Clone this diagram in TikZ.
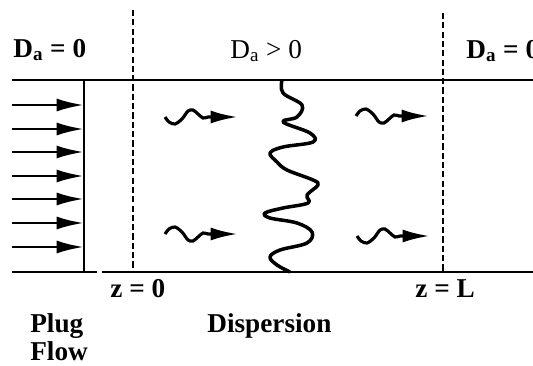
\documentclass[tikz,border=0pt]{standalone}
\usepackage{fontspec}
\setmainfont{Liberation Serif}
\usetikzlibrary{arrows.meta}
\tikzset{
    % Line styles
    wall/.style={
        line width=1.2pt,
        draw=black
    },
    front/.style={
        line width=1.4pt,
        draw=black
    },
    boundary/.style={
        line width=1.2pt,
        draw=black,
        dash pattern=on 3.5pt off 1.8pt
    },
    mixing/.style={
        line width=2pt,
        draw=black,
        line join=round
    },
    % Arrow styles
    plugarrow/.style={
        -{Latex[length=0.55cm,width=0.26cm]},
        line width=1.6pt
    },
    squiggle/.style={
        -{Latex[length=0.55cm,width=0.26cm]},
        line width=1.8pt
    },
    % Text styles
    label/.style={
        font=\fontsize{15.5}{18}\selectfont\bfseries,
        inner sep=0pt,
        anchor=base west
    },
    thinlabel/.style={
        font=\fontsize{15.5}{18}\selectfont,
        inner sep=0pt,
        anchor=base west
    }
}

\begin{document}
\begin{tikzpicture}[x=0.02cm, y=-0.02cm]
    \useasboundingbox (0,0) rectangle (533,365);
    \clip (0,0) rectangle (533,365);

    % region labels
    \node[label] (dleft) at (13,57) {D\textsubscript{a} = 0};
    \node[thinlabel] (dmid) at (230,58) {D\textsubscript{a} > 0};
    \node[label] (dright) at (466,58) {D\textsubscript{a} = 0};

    % pipe walls
    \draw[wall] (12,80) -- (533,80);
    \draw[wall] (12,272) -- (97,272);
    \draw[wall] (102,272) -- (533,272);

    % inlet and outlet boundaries
    \draw[boundary] (133,10) -- (133,272);
    \draw[boundary] (443,13) -- (443,272);

    % plug flow front
    \draw[front] (84,80) -- (84,272);
    \foreach \y in {105,129,152,176,199,223,247}
        \draw[plugarrow] (12,\y) -- (84,\y);

    % dispersed front
    \draw[mixing] plot[smooth, tension=0.6] coordinates {
        (282,80) (283,93) (302,105) (297,117) (283,122) (310,133)
        (313,142) (283,147) (270,153) (277,162) (287,170) (313,180)
        (318,185) (307,195) (308,203) (283,208) (265,213) (270,218)
        (297,223) (312,232) (307,243) (280,250) (270,257) (277,265)
        (290,272)};

    % random motion
    \foreach \sx/\sy/\s in {165/117/1, 165/234/-1, 356/116/-1, 357/236/1}
        \draw[squiggle, shift={(\sx,\sy)}] plot[smooth] coordinates {
            (0,0) (4,{5*\s}) (10,{7*\s}) (17,{2*\s}) (23,{-6*\s})
            (28,{-7*\s}) (33,{-3*\s}) (38,{1*\s}) (43,0)} -- (73,0);

    % positions and regimes
    \node[label] (zin) at (110,297) {z = 0};
    \node[label] (zout) at (415,297) {z = L};
    \node[label] (plug) at (30,332) {Plug};
    \node[label] (flow) at (30,360) {Flow};
    \node[label] (disp) at (207,332) {Dispersion};
\end{tikzpicture}
\end{document}
